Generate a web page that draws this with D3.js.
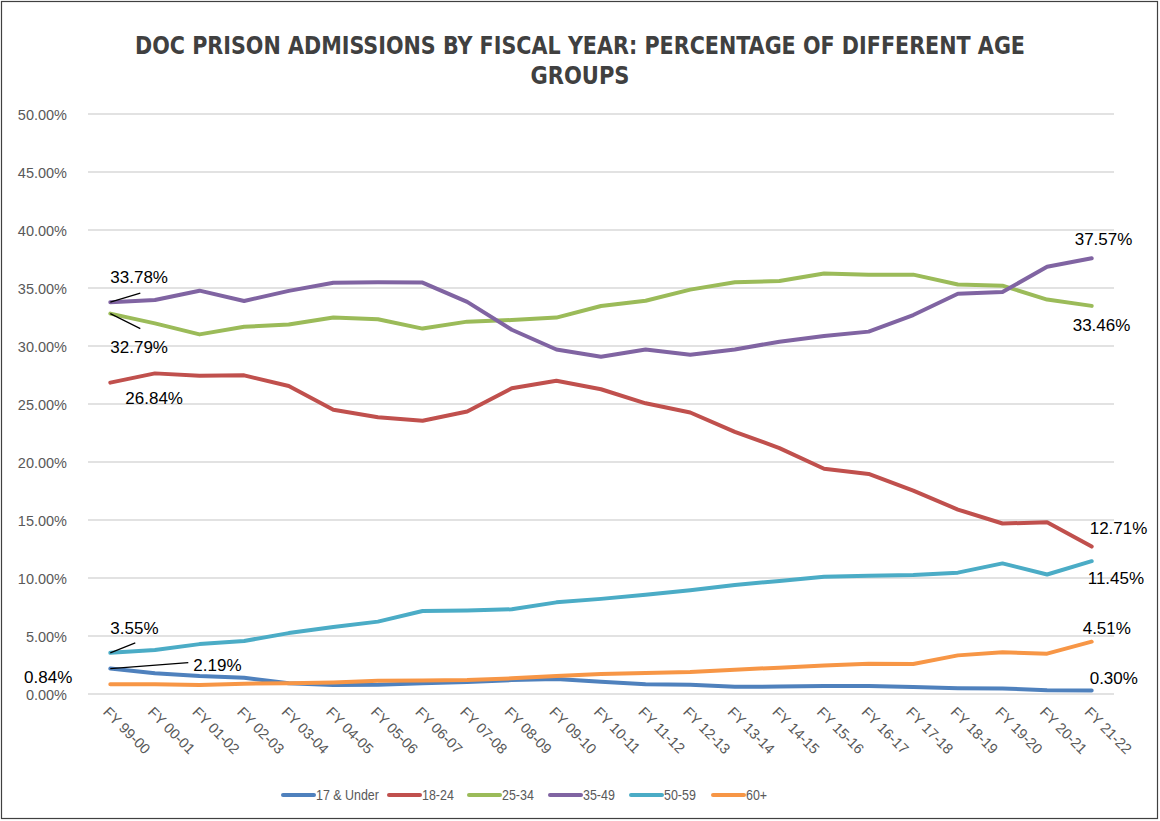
<!DOCTYPE html>
<html>
<head>
<meta charset="utf-8">
<script src="https://cdn.jsdelivr.net/npm/d3@7"></script>
<style>
  html, body { margin: 0; padding: 0; background: #fff; }
  svg { display: block; }
</style>
</head>
<body>
<svg id="chart" width="1160" height="821"></svg>
<script>
// ---- data ----
const categories = ["FY 99-00","FY 00-01","FY 01-02","FY 02-03","FY 03-04","FY 04-05","FY 05-06","FY 06-07","FY 07-08","FY 08-09","FY 09-10","FY 10-11","FY 11-12","FY 12-13","FY 13-14","FY 14-15","FY 15-16","FY 16-17","FY 17-18","FY 18-19","FY 19-20","FY 20-21","FY 21-22"];
const seriesNames = ["17 & Under","18-24","25-34","35-49","50-59","60+"];
const under17 = [2.19,1.78,1.55,1.41,0.92,0.78,0.80,0.92,1.03,1.20,1.30,1.05,0.85,0.80,0.62,0.64,0.70,0.70,0.60,0.50,0.47,0.33,0.30];
const age18to24 = [26.84,27.64,27.44,27.47,26.55,24.50,23.85,23.55,24.35,26.35,27.00,26.27,25.06,24.27,22.60,21.20,19.42,18.97,17.53,15.90,14.70,14.80,12.71];
const age25to34 = [32.79,31.95,31.00,31.66,31.85,32.45,32.30,31.50,32.10,32.24,32.45,33.45,33.90,34.86,35.50,35.60,36.25,36.15,36.15,35.30,35.20,34.00,33.46];
const age35to49 = [33.78,33.96,34.77,33.88,34.75,35.46,35.50,35.47,33.80,31.40,29.70,29.07,29.70,29.25,29.70,30.37,30.86,31.24,32.67,34.50,34.65,36.83,37.57];
const age50to59 = [3.55,3.80,4.30,4.57,5.25,5.77,6.24,7.15,7.20,7.30,7.90,8.20,8.55,8.95,9.40,9.75,10.10,10.20,10.26,10.46,11.26,10.30,11.45];
const age60plus = [0.84,0.84,0.78,0.89,0.92,1.00,1.15,1.17,1.20,1.35,1.55,1.72,1.80,1.90,2.10,2.27,2.45,2.60,2.59,3.33,3.59,3.48,4.51];
const yTicks = [0,5,10,15,20,25,30,35,40,45,50];
const titleLines = ["DOC PRISON ADMISSIONS BY FISCAL YEAR: PERCENTAGE OF DIFFERENT AGE", "GROUPS"];

const seriesValues = [under17, age18to24, age25to34, age35to49, age50to59, age60plus];
const colors = ["#4F81BD","#C0504D","#9BBB59","#8064A2","#4BACC6","#F79646"];

// label placement (style): [dx, dy, anchor, leaderDx, leaderDy] relative to point
const firstLabel = [
  [83, 2, "start", 78, -6],
  [15, 21, "start", null, null],
  [0, 39, "start", 30, 15],
  [0, -19, "start", 30, -9],
  [0, -19, "start", 25, -10],
  [-38, -1, "end", null, null]
];
const lastLabel = [
  [-2, -7, "start"],
  [-2, -13, "start"],
  [-19, 25, "start"],
  [-17, -13, "start"],
  [-4, 23, "start"],
  [-9, -8, "start"]
];

const svg = d3.select("#chart");
const font = "'Liberation Sans', Arial, sans-serif";
const narrow = "'DejaVu Sans Condensed','Liberation Sans',sans-serif";

// frame
svg.append("rect").attr("x",1.5).attr("y",1.5).attr("width",1156).attr("height",817)
  .attr("fill","#fff").attr("stroke","#404040").attr("stroke-width",1.2);

// title
const tl = [[580,54,890],[580,84,99]];
titleLines.forEach((t,i)=>{
  svg.append("text").attr("x",tl[i][0]).attr("y",tl[i][1]).attr("text-anchor","middle")
    .attr("font-family",narrow).attr("font-weight","bold").attr("font-size",24)
    .attr("fill","#404040").attr("textLength",tl[i][2]).attr("lengthAdjust","spacingAndGlyphs")
    .text(t);
});

const x = d3.scalePoint().domain(categories).range([88,1114]).padding(0.5);
const y = d3.scaleLinear().domain([0,50]).range([694,114]);

// gridlines
svg.append("g").selectAll("line").data(yTicks).join("line")
  .attr("x1",88).attr("x2",1114).attr("y1",d=>y(d)).attr("y2",d=>y(d))
  .attr("stroke","#d9d9d9").attr("stroke-width",1.3);

// y axis labels
const yAxis = d3.axisLeft(y).tickValues(yTicks).tickSize(0).tickPadding(0)
  .tickFormat(d=>d3.format(".2f")(d)+"%");
const ya = svg.append("g").attr("transform","translate(67,0)").call(yAxis);
ya.select(".domain").remove();
ya.selectAll("text").attr("font-family",font).attr("font-size",14.5).attr("fill","#595959").attr("dy","0.35em");

// x axis labels
const xAxis = d3.axisBottom(x).tickSize(0).tickPadding(0);
const xa = svg.append("g").call(xAxis);
xa.select(".domain").remove();
xa.selectAll(".tick").attr("transform",d=>`translate(${x(d)-8},713)`);
xa.selectAll("text").attr("font-family",font).attr("font-size",14.5).attr("fill","#595959")
  .attr("x",0).attr("y",0).attr("dy",0).attr("text-anchor","start").attr("transform","rotate(45)");

// lines
const line = d3.line().x((d,i)=>x(categories[i])).y(d=>y(d));
seriesValues.forEach((vals,si)=>{
  svg.append("path").datum(vals).attr("d",line).attr("fill","none")
    .attr("stroke",colors[si]).attr("stroke-width",4)
    .attr("stroke-linejoin","round").attr("stroke-linecap","round");
});

// data labels
const fmt = d=>d3.format(".2f")(d)+"%";
seriesValues.forEach((vals,si)=>{
  const px0 = x(categories[0]), py0 = y(vals[0]);
  const f = firstLabel[si];
  if (f[3] !== null) {
    svg.append("line").attr("x1",px0).attr("y1",py0).attr("x2",px0+f[3]).attr("y2",py0+f[4])
      .attr("stroke","#000").attr("stroke-width",1.2);
  }
  svg.append("text").attr("x",px0+f[0]).attr("y",py0+f[1]).attr("text-anchor",f[2])
    .attr("font-family",font).attr("font-size",17).attr("fill","#000").text(fmt(vals[0]));
  const n = vals.length-1;
  const px1 = x(categories[n]), py1 = y(vals[n]);
  const l = lastLabel[si];
  svg.append("text").attr("x",px1+l[0]).attr("y",py1+l[1]).attr("text-anchor",l[2])
    .attr("font-family",font).attr("font-size",17).attr("fill","#000").text(fmt(vals[n]));
});

// legend
const legX = [283,389,469,550,631,713];
const leg = svg.append("g");
seriesNames.forEach((s,i)=>{
  const g = leg.append("g").attr("transform",`translate(${legX[i]},795)`);
  g.append("line").attr("x1",0).attr("x2",31).attr("y1",0).attr("y2",0)
    .attr("stroke",colors[i]).attr("stroke-width",4).attr("stroke-linecap","round");
  g.append("text").attr("transform","translate(33,0) scale(0.83,1)").attr("dy","0.35em")
    .attr("font-family",font).attr("font-size",15).attr("fill","#595959").text(s);
});
</script>
</body>
</html>
